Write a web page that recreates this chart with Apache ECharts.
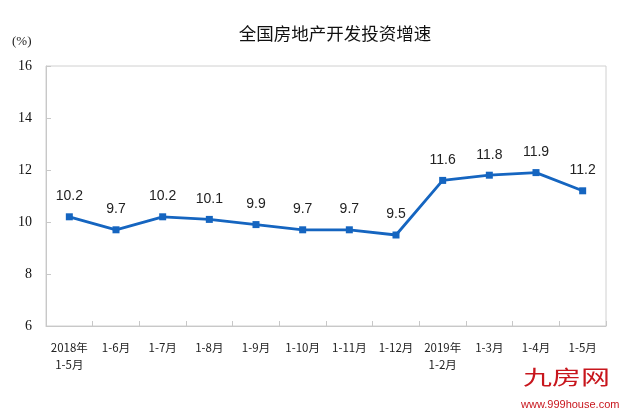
<!DOCTYPE html>
<html><head><meta charset="utf-8">
<script src="https://cdn.jsdelivr.net/npm/echarts@6/dist/echarts.min.js"></script>
<style>html,body{margin:0;padding:0;background:#fff}#c{width:625px;height:414px}</style>
</head><body><div id="c"></div>
<script>
const categories = ['2018年\n1-5月','1-6月','1-7月','1-8月','1-9月','1-10月','1-11月','1-12月','2019年\n1-2月','1-3月','1-4月','1-5月'];
const growth = [10.2, 9.7, 10.2, 10.1, 9.9, 9.7, 9.7, 9.5, 11.6, 11.8, 11.9, 11.2];
const yTicks = [6, 8, 10, 12, 14, 16];
const title = '全国房地产开发投资增速';
const unit = '(%)';

const chart = echarts.init(document.getElementById('c'), null, {renderer:'canvas'});
chart.setOption({
  animation: false,
  backgroundColor: '#fff',
  title: {text: title, left: 330, top: 20, textAlign: 'center',
    textStyle: {fontFamily: 'Noto Sans CJK SC', fontSize: 17.5, fontWeight: 'normal', color: '#111'}},
  grid: {left: 46, right: 19, top: 66, bottom: 88, show: true, borderColor: '#d0d0d0', borderWidth: 1},
  graphic: [
    {type: 'text', left: 12, top: 35, style: {text: unit, font: '13px "Liberation Serif", serif', fill: '#222'}},
    {type: 'text', x: 523, y: 367, scaleX: 1.45, style: {text: '九房网', font: '20px "Noto Sans CJK SC"', fill: '#c8161d'}},
    {type: 'text', left: 521, top: 399, style: {text: 'www.999house.com', font: '11px "Liberation Sans", Arial', fill: '#c8161d'}}
  ],
  xAxis: {
    type: 'category', data: categories, boundaryGap: true,
    axisLine: {lineStyle: {color: '#c8c8c8'}},
    axisTick: {show: true, inside: true, length: 5, lineStyle: {color: '#c8c8c8'}},
    axisLabel: {interval: 0, margin: 13, color: '#222', fontSize: 11.5, lineHeight: 17, fontFamily: 'Noto Sans CJK SC'}
  },
  yAxis: {
    type: 'value', min: 6, max: 16, interval: 2,
    splitLine: {show: false},
    axisLine: {show: true, lineStyle: {color: '#c8c8c8'}},
    axisTick: {show: true, inside: true, length: 5, lineStyle: {color: '#c8c8c8'}},
    axisLabel: {margin: 14, color: '#111', fontSize: 14, fontFamily: 'Liberation Serif',
      formatter: v => yTicks.includes(v) ? String(v) : ''}
  },
  series: [{
    type: 'line', data: growth,
    symbol: 'rect', symbolSize: 7,
    lineStyle: {color: '#1565c0', width: 2.8},
    itemStyle: {color: '#1565c0'},
    label: {show: true, position: 'top', distance: 10, color: '#222', fontSize: 14,
      fontFamily: 'Liberation Sans', formatter: p => p.value.toFixed(1)}
  }]
});
</script></body></html>
